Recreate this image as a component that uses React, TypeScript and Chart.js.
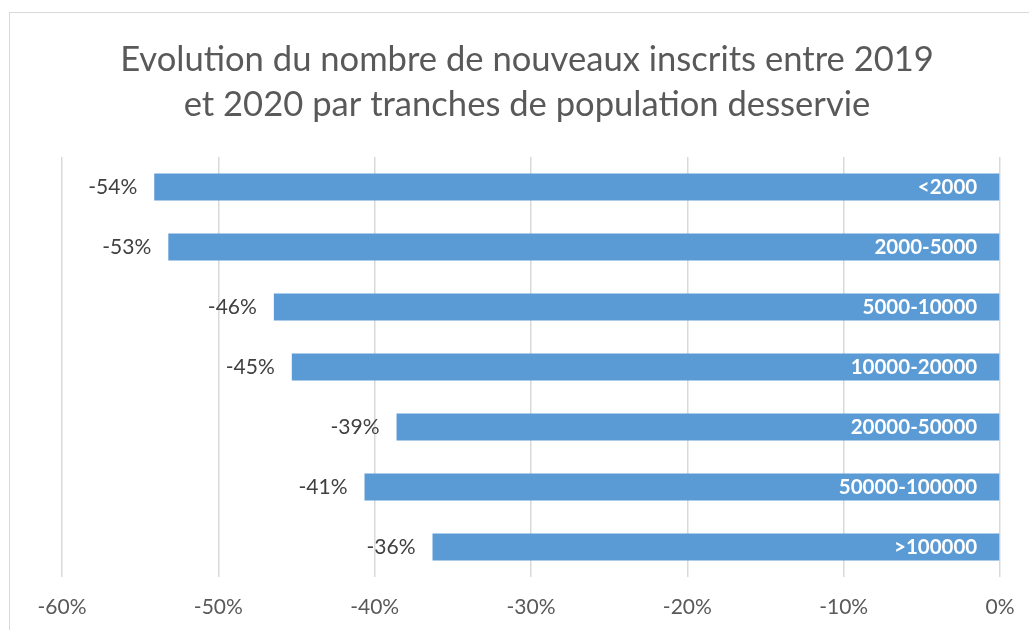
import React, { useEffect, useRef } from "react";
import { Chart, registerables } from "chart.js";

Chart.register(...registerables);

const titleLines = [
  "Evolution du nombre de nouveaux inscrits entre 2019",
  "et 2020 par tranches de population desservie",
];
const categories = [
  "<2000",
  "2000-5000",
  "5000-10000",
  "10000-20000",
  "20000-50000",
  "50000-100000",
  ">100000",
];
const values = [-54.1, -53.2, -46.45, -45.3, -38.6, -40.65, -36.3];
const axisMin = -60;
const axisMax = 0;
const axisStep = 10;

const FONT = "Lato, 'Open Sans', sans-serif";

const barLabelsPlugin = {
  id: "barLabels",
  afterDatasetsDraw(chart: any) {
    const ctx = chart.ctx;
    const meta = chart.getDatasetMeta(0);
    ctx.save();
    meta.data.forEach((bar: any, i: number) => {
      const v = values[i];
      ctx.font = `21px ${FONT}`;
      ctx.fillStyle = "#404040";
      ctx.textAlign = "right";
      ctx.textBaseline = "middle";
      ctx.fillText(`${Math.round(v)}%`, bar.x - 17, bar.y);
      ctx.font = `bold 20.5px ${FONT}`;
      ctx.fillStyle = "#ffffff";
      ctx.fillText(categories[i], bar.base - 22, bar.y);
    });
    ctx.restore();
  },
};

export default function App() {
  const ref = useRef<HTMLCanvasElement | null>(null);

  useEffect(() => {
    if (!ref.current) return;
    const chart = new Chart(ref.current, {
      type: "bar",
      data: {
        labels: categories,
        datasets: [
          {
            data: values,
            backgroundColor: "#5B9BD5",
            borderWidth: 0,
            barPercentage: 0.45,
            categoryPercentage: 1,
          },
        ],
      },
      options: {
        indexAxis: "y",
        responsive: false,
        animation: false,
        layout: { padding: { left: 54, right: 29, top: 0, bottom: 0 } },
        plugins: {
          legend: { display: false },
          tooltip: { enabled: false },
          title: {
            display: true,
            text: titleLines,
            color: "#595959",
            font: { family: FONT, size: 34.6, weight: "normal", lineHeight: 1.3 },
            padding: { top: 37, bottom: 30 },
          },
        },
        scales: {
          x: {
            min: axisMin,
            max: axisMax,
            ticks: {
              stepSize: axisStep,
              color: "#595959",
              font: { family: FONT, size: 21 },
              padding: 18,
              callback: (v: any) => `${Math.round(Number(v))}%`,
            },
            grid: { color: "#d9d9d9", lineWidth: 1.5, drawTicks: false },
            border: { display: false },
            afterFit: (s: any) => {
              s.height = 53;
              s.paddingLeft = 0;
              s.paddingRight = 0;
            },
          },
          y: {
            display: true,
            ticks: { display: false },
            grid: { display: false, drawTicks: false },
            border: { display: false },
            afterFit: (s: any) => {
              s.width = 8;
              s.paddingTop = 0;
              s.paddingBottom = 0;
            },
          },
        },
      },
      plugins: [barLabelsPlugin],
    });
    return () => chart.destroy();
  }, []);

  return (
    <div
      style={{
        position: "fixed",
        left: 0,
        top: 0,
        width: 1029,
        height: 630,
        overflow: "hidden",
        background: "#ffffff",
      }}
    >
      <div
        style={{
          position: "absolute",
          left: 9,
          top: 12,
          width: 1100,
          height: 700,
          border: "1px solid #d9d9d9",
          boxSizing: "border-box",
        }}
      />
      <canvas
        ref={ref}
        width={1029}
        height={630}
        style={{ position: "absolute", left: 0, top: 0 }}
      />
    </div>
  );
}
